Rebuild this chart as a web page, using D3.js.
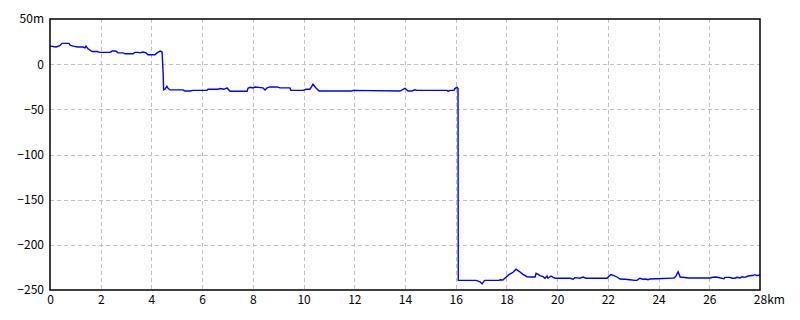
<!DOCTYPE html>
<html><head><meta charset="utf-8">
<script src="https://cdn.jsdelivr.net/npm/d3@7"></script>
<style>body{margin:0;background:#fff}svg{display:block}text{font-family:"Noto Sans CJK JP","DejaVu Sans",sans-serif;font-size:12px;fill:#000}</style>
</head><body><svg id="c" width="800" height="320"></svg>
<script>
const distKm = [0,0.24,0.39,0.47,0.75,0.79,0.91,1.10,1.30,1.38,1.42,1.50,1.66,1.85,1.97,2.37,2.45,2.60,2.68,2.88,2.96,3.27,3.35,3.47,3.55,3.67,3.79,3.86,4.14,4.22,4.34,4.42,4.46,4.48,4.54,4.61,4.65,4.73,5.25,5.32,5.52,5.64,6.19,6.23,6.63,6.70,6.86,6.98,7.10,7.77,7.81,7.89,8.01,8.08,8.40,8.48,8.56,8.68,8.95,9.07,9.46,9.50,9.98,10.10,10.25,10.37,10.49,10.61,11.91,11.95,13.80,14.00,14.12,14.28,14.39,14.47,15.66,15.70,15.77,15.93,15.97,16.05,16.09,16.10,16.80,16.96,17.04,17.12,17.16,17.71,17.75,17.86,17.94,18.10,18.26,18.38,18.50,18.65,18.81,18.93,19.13,19.17,19.25,19.32,19.44,19.52,19.60,19.64,19.76,19.84,19.92,20.51,20.63,20.70,20.90,21.02,21.14,21.30,21.97,22.05,22.12,22.24,22.36,22.48,22.68,22.87,23.07,23.15,23.26,23.38,23.50,23.58,23.66,23.90,23.94,24.53,24.61,24.69,24.77,24.85,25.20,26.03,26.14,26.26,26.58,26.62,26.82,26.90,27.01,27.09,27.21,27.29,27.41,27.53,27.68,27.72,27.80,27.88,28.0];
const elevM = [20,19,20.5,23,23,21,20,19,19,18,20,17,14,14,13,13,14.5,14.5,12.5,12.5,11.5,11.5,13,13,12.5,13.5,12.5,10.5,10.5,12.5,14.5,13.5,-8.6,-28.5,-27.5,-24.5,-26.5,-28.5,-28.5,-29.7,-29.7,-29,-29,-27.8,-27.8,-27,-27.8,-26.3,-30,-30,-26.7,-25.6,-26.3,-25.3,-26.3,-28.5,-26.3,-25.2,-25.2,-26.3,-26.3,-29,-29,-27.8,-27.8,-22.3,-26.3,-29.7,-29.7,-29,-29.7,-26.7,-29.7,-29.7,-28.3,-29,-29,-30.2,-29,-29,-27,-25.6,-27,-239.3,-239.3,-241,-243.3,-240,-239.3,-239.3,-238.6,-239,-237,-233,-230.4,-227,-229.3,-232.7,-235.3,-235.6,-235.6,-231.5,-232.7,-234,-235.3,-237,-234.5,-237,-234.5,-236,-237,-237,-238,-236.3,-237,-235.6,-237,-237,-237,-234.5,-233,-234,-235.6,-237.8,-238.1,-238.6,-239.3,-239.3,-237,-238.1,-237.8,-238.6,-237.8,-237.6,-237.6,-236.8,-236.8,-234.4,-229.7,-235.6,-236.7,-236.7,-235.9,-235.6,-237.6,-236,-236,-237,-237,-236,-236.7,-235.3,-236,-234.5,-234,-234,-233,-234,-233.5,-233.5];
const xTicks = d3.range(0, 29, 2);
const yTicks = [50, 0, -50, -100, -150, -200, -250];

const svg = d3.select("#c");
const L = 50, R = 760, T = 19, B = 290;
const x = d3.scaleLinear().domain([0, 28]).range([L, R]);
const y = d3.scaleLinear().domain([-250, 50]).range([B, T]);

// grid
svg.append("g").selectAll("line").data(xTicks.filter(d => d > 0 && d < 28)).join("line")
  .attr("x1", d => Math.round(x(d)) + 0.5).attr("x2", d => Math.round(x(d)) + 0.5)
  .attr("y1", T).attr("y2", B)
  .attr("stroke", "#c0c0c0").attr("stroke-dasharray", "4,3");
svg.append("g").selectAll("line").data(yTicks.filter(d => d > -250 && d < 50)).join("line")
  .attr("y1", d => Math.round(y(d)) + 0.5).attr("y2", d => Math.round(y(d)) + 0.5)
  .attr("x1", L).attr("x2", R)
  .attr("stroke", "#c0c0c0").attr("stroke-dasharray", "4,3");

// line
const pts = distKm.map((d, i) => [d, elevM[i]]);
svg.append("path").datum(pts)
  .attr("fill", "none").attr("stroke", "#0000ff").attr("stroke-width", 1.4)
  .attr("d", d3.line().x(d => x(d[0])).y(d => y(d[1])));

// frame
svg.append("rect").attr("x", L).attr("y", T).attr("width", R - L).attr("height", B - T)
  .attr("fill", "none").attr("stroke", "#000").attr("stroke-width", 1.5);

// axes
const ya = svg.append("g").attr("transform", `translate(${L},0)`)
  .call(d3.axisLeft(y).tickValues(yTicks).tickSize(0).tickPadding(6)
    .tickFormat(d => d === 50 ? "50m" : String(d).replace("-", "\u2212")));
ya.select(".domain").remove();
ya.selectAll("text").style("font-family", null).style("font-size", null).attr("font-family", null).attr("font-size", null);

const xa = svg.append("g").attr("transform", `translate(0,${B})`)
  .call(d3.axisBottom(x).tickValues(xTicks).tickSize(0).tickPadding(5)
    .tickFormat(d => String(d)));
xa.select(".domain").remove();
xa.attr("font-family", null).attr("font-size", null);
ya.attr("font-family", null).attr("font-size", null);
// last tick: "28km" with "28" centered on the tick
xa.selectAll(".tick text").filter(d => d === 28).each(function () {
  const t = d3.select(this);
  const w = this.getComputedTextLength();
  t.attr("text-anchor", "start").attr("x", -w / 2).text("28km");
});
</script></body></html>
